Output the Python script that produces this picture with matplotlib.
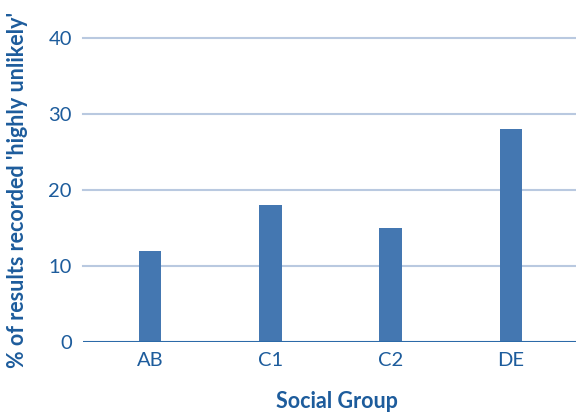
import matplotlib
matplotlib.use("Agg")
import matplotlib.pyplot as plt

groups = ["AB", "C1", "C2", "DE"]
values = [12, 18, 15, 28]
yticks = [0, 10, 20, 30, 40]

text_color = "#1d5c9c"
bar_color = "#4477b1"
grid_color = "#b9c9e0"

plt.rcParams["font.family"] = ["Lato", "DejaVu Sans"]

fig = plt.figure(figsize=(5.76, 4.12), dpi=100)
ax = fig.add_axes([0.144, 0.170, 0.856, 0.738])

x = list(range(len(groups)))
ax.bar(x, values, width=0.19, color=bar_color, zorder=3)

ax.set_xlim(-0.557, 3.54)
ax.set_ylim(0, 40)
ax.set_yticks(yticks)
ax.set_xticks(x)
ax.set_xticklabels(groups)

for t in yticks[1:]:
    ax.axhline(t, color=grid_color, lw=1.5, zorder=1, clip_on=False)
ax.axhline(0, color="#2c6aa8", lw=1.5, zorder=4)

for s in ax.spines.values():
    s.set_visible(False)

ax.tick_params(axis="both", length=0, colors=text_color, labelsize=14.5)
ax.tick_params(axis="y", pad=8)
ax.tick_params(axis="x", pad=7)

ax.set_ylabel("% of results recorded 'highly unlikely'", color=text_color,
              fontsize=15.5, fontweight="bold")
ax.yaxis.set_label_coords(-0.112, 0.5)
ax.set_xlabel("Social Group", color=text_color, fontsize=15.5,
              fontweight="bold")
ax.xaxis.set_label_coords(0.515, -0.16)

fig.savefig("out.png", dpi=100)
